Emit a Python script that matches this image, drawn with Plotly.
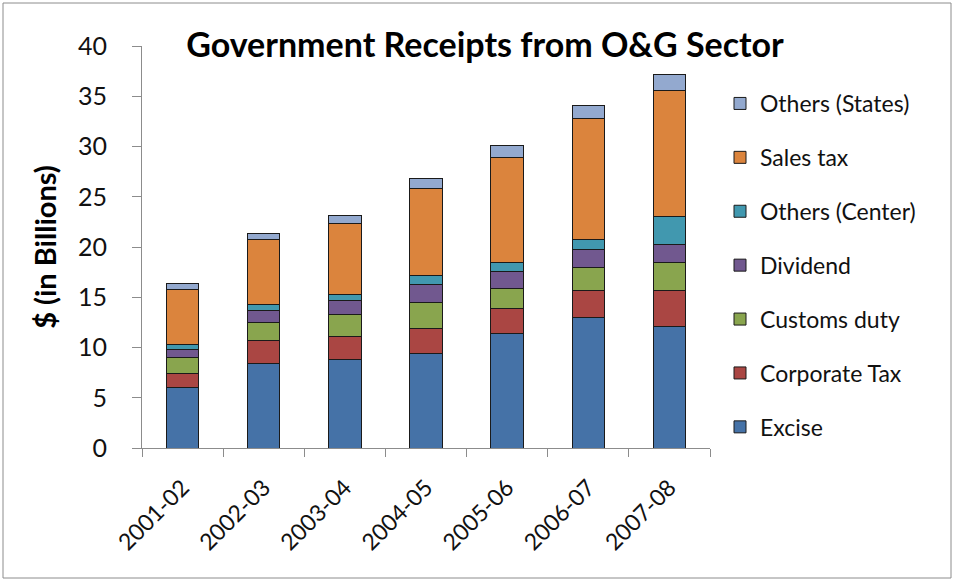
import plotly.graph_objects as go

years = ["2001-02", "2002-03", "2003-04", "2004-05", "2005-06", "2006-07", "2007-08"]

excise = [6.06, 8.37, 8.77, 9.40, 11.42, 12.97, 12.08]
corporate_tax = [1.32, 2.29, 2.28, 2.52, 2.44, 2.68, 3.57]
customs_duty = [1.66, 1.82, 2.19, 2.58, 1.99, 2.28, 2.78]
dividend = [0.72, 1.25, 1.39, 1.75, 1.69, 1.79, 1.79]
others_center = [0.50, 0.50, 0.62, 0.93, 0.93, 1.03, 2.82]
sales_tax = [5.53, 6.52, 7.09, 8.64, 10.39, 12.08, 12.57]
others_states = [0.53, 0.63, 0.80, 0.99, 1.26, 1.26, 1.56]

series = [
    ("Excise", excise, "#4572A7"),
    ("Corporate Tax", corporate_tax, "#AA4643"),
    ("Customs duty", customs_duty, "#89A54E"),
    ("Dividend", dividend, "#71588F"),
    ("Others (Center)", others_center, "#4198AF"),
    ("Sales tax", sales_tax, "#DB843D"),
    ("Others (States)", others_states, "#93A9CF"),
]

FONT = "Lato, 'Open Sans', sans-serif"

fig = go.Figure()
for i, (name, vals, color) in enumerate(series):
    fig.add_trace(go.Bar(
        x=years, y=vals, name=name, legendgroup=name,
        legendrank=1000 - i,
        marker=dict(color=color, line=dict(color="#1a1a1a", width=1)),
    ))

W, H = 955, 582
L, R, T, B = 142, 245, 46, 134
pw, ph = W - L - R, H - T - B

def px_x(p):
    return (p - L) / pw

def px_y(p):
    return (H - B - p) / ph

fig.update_layout(
    width=W, height=H,
    margin=dict(l=L, r=R, t=T, b=B),
    barmode="stack", bargap=0.6,
    plot_bgcolor="white", paper_bgcolor="white",
    font=dict(family=FONT, color="#111111"),
    title=dict(text="<b>Government Receipts from O&G Sector</b>",
               x=px_x(485), xref="paper", xanchor="center",
               y=1 - 45 / H, yref="container", yanchor="middle",
               font=dict(size=34, family=FONT, color="#000000")),
    legend=dict(traceorder="grouped", tracegroupgap=21,
                x=px_x(720), y=px_y(82), xanchor="left", yanchor="top",
                font=dict(size=23, family=FONT, color="#111111"),
                bgcolor="rgba(0,0,0,0)"),
    showlegend=True,
    xaxis=dict(type="category", showline=True, linecolor="#8c8c8c", linewidth=1,
               ticks="outside", tickson="boundaries", ticklen=8,
               tickcolor="#8c8c8c", tickangle=-45, ticklabelstandoff=16,
               tickfont=dict(size=23, family=FONT, color="#111111"),
               showgrid=False),
    yaxis=dict(range=[0, 40], dtick=5, showline=True, linecolor="#8c8c8c",
               linewidth=1, ticks="outside", ticklen=9, tickcolor="#8c8c8c",
               ticklabelstandoff=20,
               tickfont=dict(size=25, family=FONT, color="#111111"),
               showgrid=False, zeroline=False,
               title=dict(text="<b>$ (in Billions)</b>", standoff=12,
                          font=dict(size=29, family=FONT, color="#000000"))),
    shapes=[dict(type="rect", xref="paper", yref="paper",
                 x0=px_x(3), x1=px_x(951), y0=px_y(578), y1=px_y(3),
                 line=dict(color="#8c8c8c", width=1), layer="below")],
)

fig.write_html("out.html")
